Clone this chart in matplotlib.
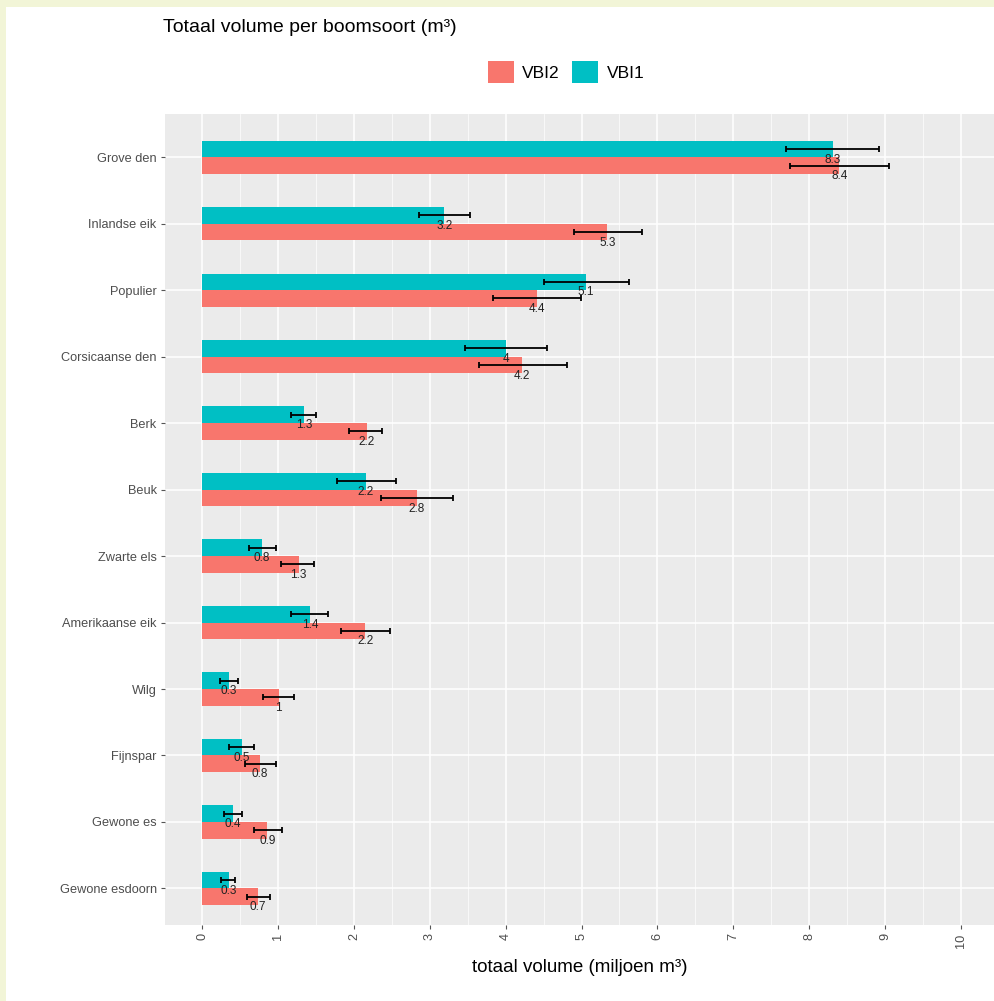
import numpy as np
import matplotlib
matplotlib.use('Agg')
import matplotlib.pyplot as plt
from matplotlib.patches import Patch, Rectangle

plt.rcParams['font.family'] = ['Liberation Sans', 'DejaVu Sans']

soorten = ['Grove den', 'Inlandse eik', 'Populier', 'Corsicaanse den', 'Berk', 'Beuk',
           'Zwarte els', 'Amerikaanse eik', 'Wilg', 'Fijnspar', 'Gewone es', 'Gewone esdoorn']

# VBI1
vbi1 = [8.31, 3.19, 5.06, 4.01, 1.34, 2.16, 0.79, 1.42, 0.35, 0.52, 0.40, 0.35]
vbi1_lo = [7.70, 2.86, 4.50, 3.47, 1.17, 1.78, 0.62, 1.17, 0.24, 0.36, 0.29, 0.25]
vbi1_hi = [8.92, 3.53, 5.63, 4.54, 1.50, 2.56, 0.97, 1.66, 0.47, 0.68, 0.53, 0.43]
vbi1_lab = ['8.3', '3.2', '5.1', '4', '1.3', '2.2', '0.8', '1.4', '0.3', '0.5', '0.4', '0.3']

# VBI2
vbi2 = [8.40, 5.34, 4.41, 4.22, 2.17, 2.83, 1.27, 2.15, 1.01, 0.76, 0.86, 0.73]
vbi2_lo = [7.75, 4.90, 3.83, 3.65, 1.94, 2.36, 1.04, 1.83, 0.80, 0.57, 0.68, 0.59]
vbi2_hi = [9.05, 5.80, 4.99, 4.81, 2.37, 3.30, 1.48, 2.48, 1.21, 0.97, 1.05, 0.89]
vbi2_lab = ['8.4', '5.3', '4.4', '4.2', '2.2', '2.8', '1.3', '2.2', '1', '0.8', '0.9', '0.7']

col2 = '#F8766D'
col1 = '#00BFC4'

fig = plt.figure(figsize=(9.95, 10.01), dpi=100)
fig.patch.set_facecolor('white')

# gele rand links en boven
fig.patches.append(Rectangle((0, 0), 6 / 995, 1, transform=fig.transFigure,
                             facecolor='#f2f5d7', edgecolor='none', zorder=0))
fig.patches.append(Rectangle((0, 1 - 7 / 1001), 1, 7 / 1001, transform=fig.transFigure,
                             facecolor='#f2f5d7', edgecolor='none', zorder=0))

ax = fig.add_axes([165 / 995, 1 - 925 / 1001, 1 - 165 / 995, (925 - 114) / 1001])
ax.set_facecolor('#ebebeb')
for s in ax.spines.values():
    s.set_visible(False)

y = np.arange(len(soorten))
h = 0.25

ax.barh(y - h / 2, vbi1, height=h, color=col1, zorder=2)
ax.barh(y + h / 2, vbi2, height=h, color=col2, zorder=2)

v1 = np.array(vbi1)
v2 = np.array(vbi2)
ax.errorbar(v1, y - h / 2, xerr=[v1 - np.array(vbi1_lo), np.array(vbi1_hi) - v1],
            fmt='none', ecolor='black', elinewidth=1.3, capsize=2.5, capthick=1.3, zorder=3)
ax.errorbar(v2, y + h / 2, xerr=[v2 - np.array(vbi2_lo), np.array(vbi2_hi) - v2],
            fmt='none', ecolor='black', elinewidth=1.3, capsize=2.5, capthick=1.3, zorder=3)

for i in range(len(soorten)):
    ax.text(vbi1[i], y[i] - h / 2 + 0.16, vbi1_lab[i],
            ha='center', va='center', fontsize=8.5, color='#222222', zorder=4)
    ax.text(vbi2[i], y[i] + h / 2 + 0.16, vbi2_lab[i],
            ha='center', va='center', fontsize=8.5, color='#222222', zorder=4)

ax.set_xlim(-0.49, 10.45)
ax.set_ylim(len(soorten) - 0.45, -0.65)
ax.set_xticks(np.arange(0, 11))
ax.set_xticks(np.arange(0.5, 10.5, 1), minor=True)
ax.set_yticks(y)
ax.set_yticklabels(soorten)
ax.grid(which='major', color='white', linewidth=1.1, zorder=0)
ax.grid(which='minor', axis='x', color='white', linewidth=0.5, zorder=0)
ax.set_axisbelow(True)
ax.tick_params(axis='both', which='major', length=3, color='#555555', labelcolor='#4d4d4d',
               labelsize=9.2, pad=3)
ax.tick_params(axis='x', which='major', labelrotation=90)
ax.tick_params(which='minor', length=0)

ax.set_xlabel('totaal volume (miljoen m³)', fontsize=13.5, color='black', labelpad=8)

fig.text(163 / 995, 1 - 28 / 1001, 'Totaal volume per boomsoort (m³)', fontsize=14,
         ha='left', va='center', color='black')

handles = [Patch(facecolor=col2, label='VBI2'), Patch(facecolor=col1, label='VBI1')]
fig.legend(handles=handles, loc='center', bbox_to_anchor=(566 / 995, 1 - 72 / 1001),
           ncol=2, frameon=False, fontsize=12.5, handlelength=1.5, handleheight=1.6,
           handletextpad=0.5, columnspacing=0.7)

plt.savefig('out.png', dpi=100)
